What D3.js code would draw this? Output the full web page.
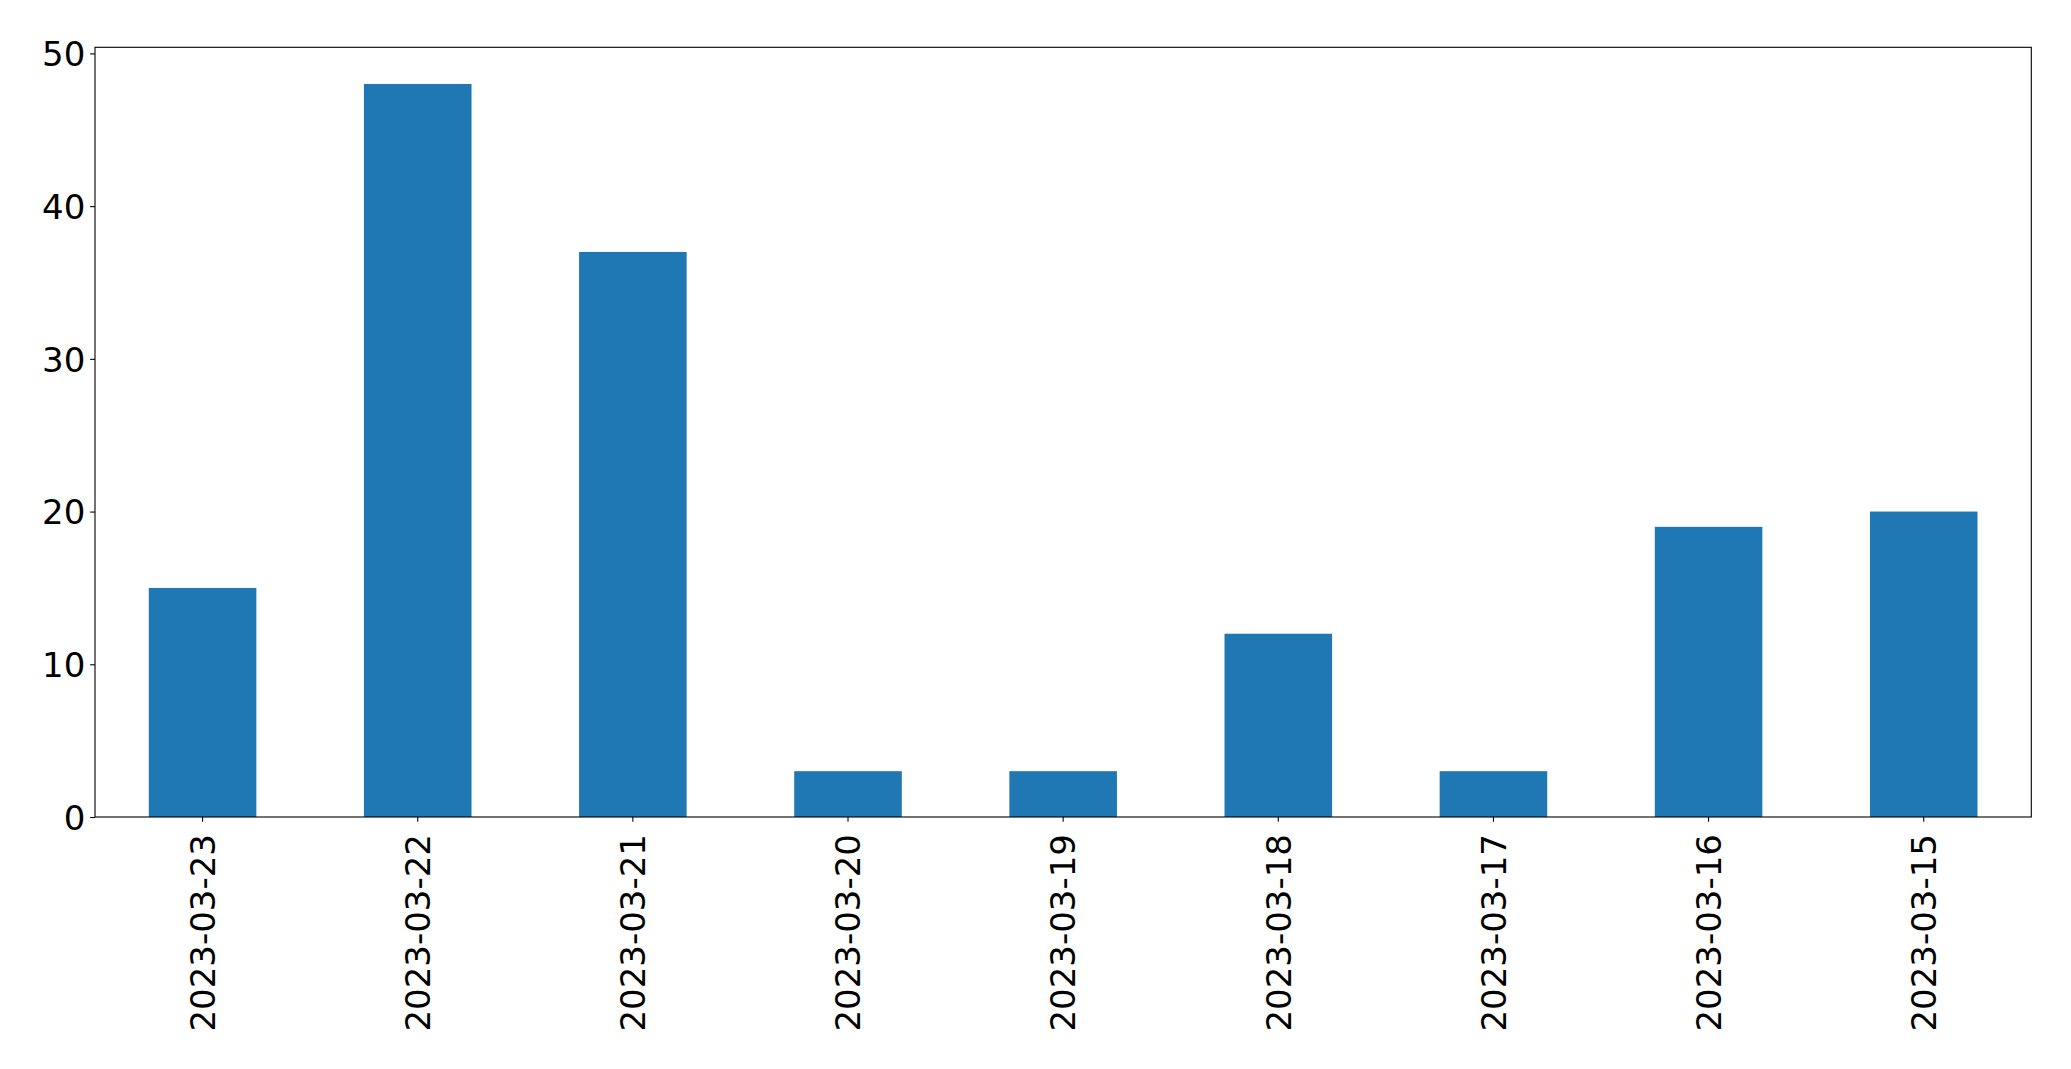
<!DOCTYPE html>
<html>
<head>
<meta charset="utf-8">
<script src="https://cdn.jsdelivr.net/npm/d3@7"></script>
<style>
  html, body { margin: 0; padding: 0; background: #fff; }
  svg { display: block; }
</style>
</head>
<body>
<script>
const categories = ["2023-03-23","2023-03-22","2023-03-21","2023-03-20","2023-03-19","2023-03-18","2023-03-17","2023-03-16","2023-03-15"];
const values = [15, 48, 37, 3, 3, 12, 3, 19, 20];
const yTicks = [0, 10, 20, 30, 40, 50];

const W = 2071, H = 1069;
const margin = {left: 95, top: 47.3, right: 2071 - 2031.3, bottom: 1069 - 817};
const iw = W - margin.left - margin.right;
const ih = H - margin.top - margin.bottom;

const svg = d3.select("body").append("svg").attr("width", W).attr("height", H);
const g = svg.append("g").attr("transform", `translate(${margin.left},${margin.top})`);

const x = d3.scaleBand().domain(categories).range([0, iw]).paddingInner(0.5).paddingOuter(0.25);
const y = d3.scaleLinear().domain([0, d3.max(values) * 1.05]).range([ih, 0]);

g.selectAll("rect.bar").data(values).enter().append("rect")
  .attr("class", "bar")
  .attr("x", (d, i) => x(categories[i]))
  .attr("width", x.bandwidth())
  .attr("y", d => y(d))
  .attr("height", d => ih - y(d))
  .attr("fill", "#1f77b4");

const fontSize = 34;
const tickLen = 4.86;

const yAxis = d3.axisLeft(y).tickValues(yTicks).tickSize(tickLen).tickPadding(4.86).tickFormat(d3.format("d"));
const ya = g.append("g").call(yAxis);
ya.select(".domain").remove();
ya.selectAll("line").attr("stroke", "#000").attr("stroke-width", 1.1);
ya.selectAll("text").attr("font-family", "DejaVu Sans").attr("font-size", fontSize).attr("fill", "#000").attr("dy", "0.36em");

const xAxis = d3.axisBottom(x).tickSize(tickLen).tickPadding(0);
const xa = g.append("g").attr("transform", `translate(0,${ih})`).call(xAxis);
xa.select(".domain").remove();
xa.selectAll("line").attr("stroke", "#000").attr("stroke-width", 1.1);
xa.selectAll("text")
  .attr("font-family", "DejaVu Sans").attr("font-size", fontSize).attr("fill", "#000")
  .attr("text-anchor", "end")
  .attr("transform", "rotate(-90)")
  .attr("x", -17)
  .attr("y", 0)
  .attr("dy", "0.36em");

g.append("rect").attr("x", 0).attr("y", 0).attr("width", iw).attr("height", ih)
  .attr("fill", "none").attr("stroke", "#000").attr("stroke-width", 1.1);
</script>
</body>
</html>
